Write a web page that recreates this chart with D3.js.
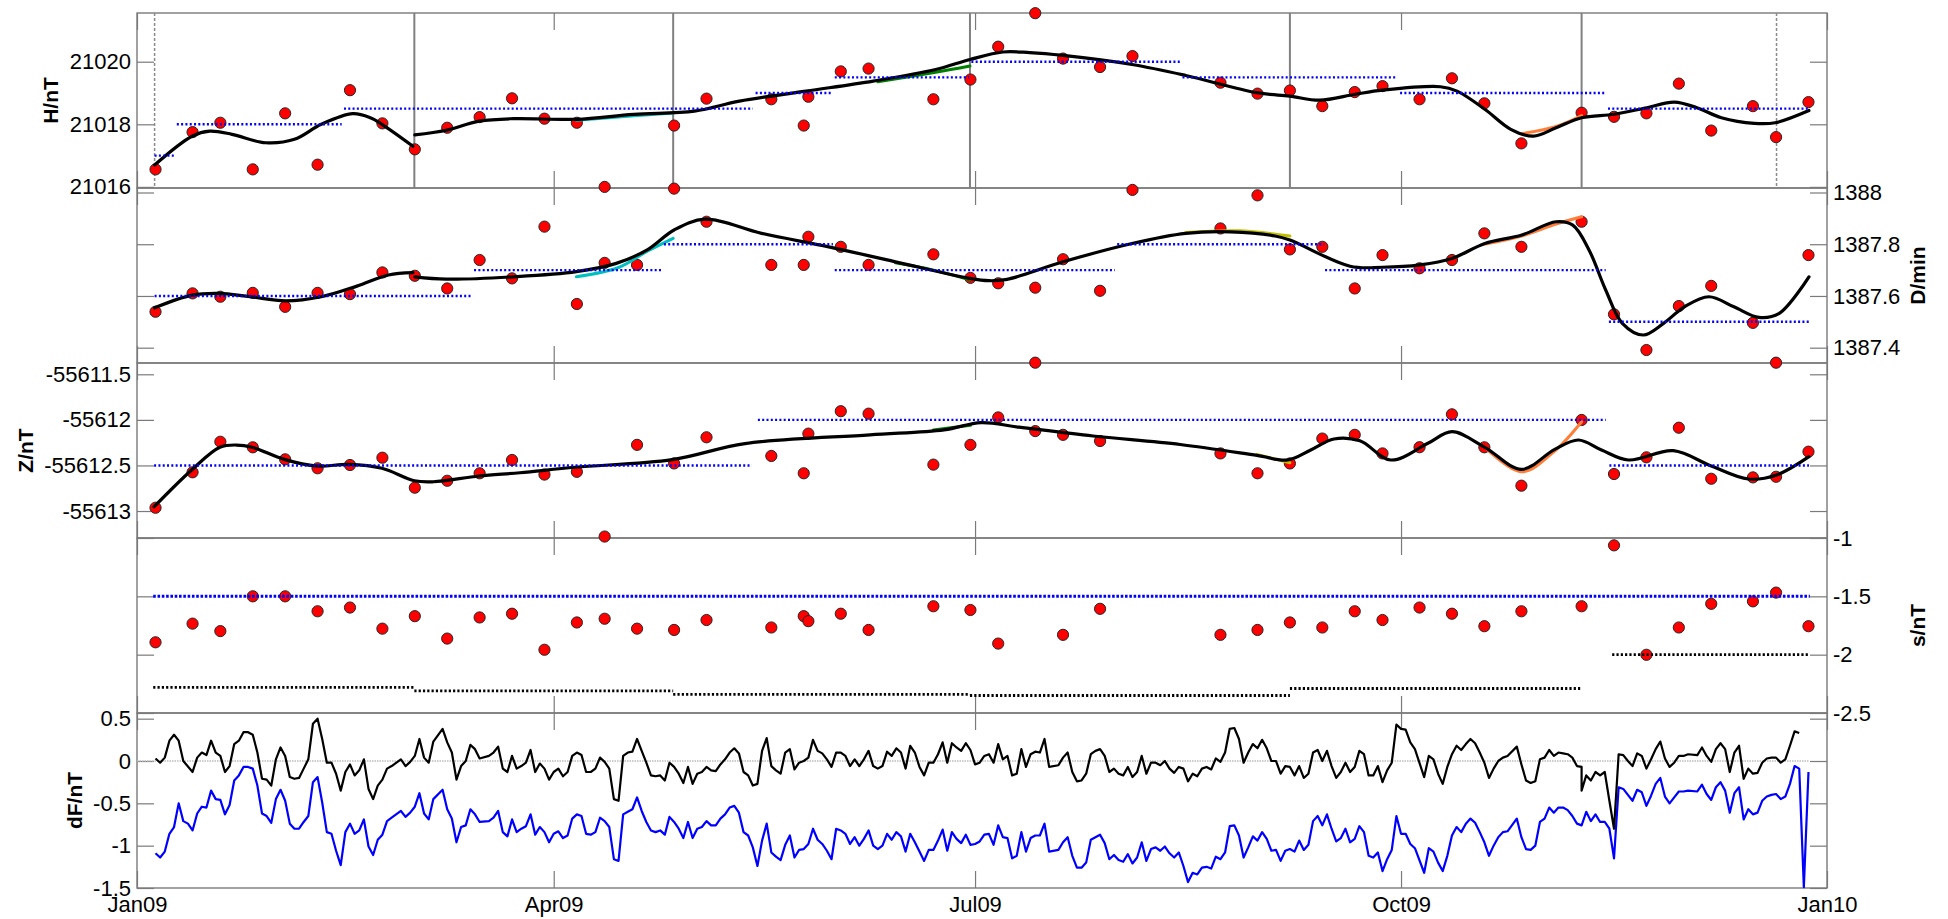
<!DOCTYPE html>
<html><head><meta charset="utf-8">
<script src="https://cdn.jsdelivr.net/npm/d3@7"></script>
<style>
body{margin:0;background:#fff;}
svg{display:block;font-family:"Liberation Sans",Arial,Helvetica,sans-serif;}
</style></head><body>
<svg id="c" width="1948" height="919"></svg>
<script>
// ---------- DATA (day of year 2009, 0 = Jan 1) ----------
const obsDay = [4,12,18,25,32,39,46,53,60,67,74,81,88,95,101,108,116,123,137,144,145,152,158,172,180,186,194,200,208,215,234,242,249,256,263,269,277,284,291,299,312,319,326,333,340,349,354,361];
const hObs = [21016.56,21017.75,21018.05,21016.56,21018.35,21016.71,21019.09,21018.03,21017.20,21017.89,21018.23,21018.83,21018.18,21018.05,21016.00,null,21017.96,21018.82,21018.80,21017.96,21018.88,21019.69,21019.78,21018.80,21019.43,21020.48,21021.55,21020.10,21019.83,21020.18,21019.33,21018.98,21019.08,21018.58,21019.03,21019.22,21018.80,21019.47,21018.67,21017.39,21018.37,21018.24,21018.35,21019.30,21017.80,21018.58,21017.59,21018.71];
const dObs = [1387.539,1387.610,1387.597,1387.612,1387.558,1387.612,1387.607,1387.691,1387.678,1387.629,1387.739,1387.668,1387.868,1387.569,1387.728,1387.720,1388.015,1387.887,1387.720,1387.720,1387.829,1387.790,1387.720,1387.761,1387.670,1387.649,1387.632,1387.742,1387.620,1388.010,1387.861,1387.989,1387.780,1387.790,1387.629,1387.758,1387.707,1387.739,1387.842,1387.790,1387.887,1387.529,1387.391,1387.561,1387.639,1387.496,1387.342,1387.758];
const dExtra = [[194,1387.342]];
const zObs = [-55612.964,-55612.575,-55612.240,-55612.301,-55612.433,-55612.531,-55612.495,-55612.415,-55612.744,-55612.668,-55612.586,-55612.440,-55612.60,-55612.57,-55613.28,-55612.274,-55612.478,-55612.191,-55612.396,-55612.586,-55612.151,-55611.905,-55611.932,-55612.491,-55612.274,-55611.973,-55612.123,-55612.164,-55612.232,null,-55612.368,-55612.586,-55612.478,-55612.205,-55612.164,-55612.368,-55612.30,-55611.939,-55612.301,-55612.722,-55612.001,-55612.594,-55612.411,-55612.086,-55612.646,-55612.631,-55612.624,-55612.349];
const sObs = [-1.894,-1.734,-1.798,-1.500,-1.500,-1.628,-1.596,-1.777,-1.670,-1.862,-1.681,-1.649,-1.958,-1.724,-1.692,-1.777,-1.788,-1.703,-1.767,-1.670,-1.713,-1.649,-1.788,-1.585,-1.617,-1.905,null,-1.830,-1.607,null,-1.830,-1.788,-1.724,-1.767,-1.628,-1.703,-1.596,-1.649,-1.756,-1.628,-1.585,-1.063,-2.001,-1.767,-1.564,-1.543,-1.468,-1.756];

// smooth fits
const hCurve1 = [[3.8,21016.70],[11.9,21017.62],[15.7,21017.78],[20.5,21017.68],[27.8,21017.41],[34.0,21017.52],[39.8,21018.00],[46.6,21018.34],[50.4,21018.21],[52.9,21018.0],[59.6,21017.30]];
const hCurve2 = [[60.0,21017.66],[66.8,21017.81],[73.9,21018.10],[81.3,21018.18],[94.9,21018.16],[107.3,21018.32],[120.4,21018.42],[130.1,21018.74],[144.5,21019.06],[159.0,21019.38],[172.5,21019.75],[179.9,21020.07],[187.0,21020.31],[192.8,21020.29],[200.0,21020.20],[214.9,21019.91],[226.5,21019.56],[241.9,21019.01],[249.0,21018.90],[255.4,21018.77],[263.1,21018.96],[269.0,21019.09],[281.5,21019.20],[285.1,21019.06],[291.1,21018.48],[296.7,21017.84],[301.6,21017.62],[306.5,21017.89],[312.0,21018.21],[319.0,21018.32],[326.1,21018.53],[332.0,21018.71],[336.9,21018.53],[342.2,21018.21],[349.3,21018.03],[353.8,21018.05],[361.1,21018.44]];
const dCurve1 = [[3.8,1387.554],[11.9,1387.603],[17.7,1387.610],[24.4,1387.597],[32.1,1387.581],[39.8,1387.597],[47.5,1387.638],[54.3,1387.681],[59.6,1387.690]];
const dCurve2 = [[60.0,1387.674],[66.8,1387.665],[81.3,1387.674],[94.9,1387.694],[103.5,1387.726],[110.2,1387.778],[116.0,1387.855],[122.7,1387.897],[134.9,1387.842],[149.4,1387.790],[163.8,1387.732],[179.9,1387.668],[184.0,1387.659],[187.9,1387.664],[200.0,1387.732],[214.9,1387.803],[226.5,1387.842],[236.1,1387.848],[245.8,1387.832],[249.0,1387.816],[262.0,1387.715],[269.0,1387.711],[277.1,1387.720],[284.0,1387.745],[291.1,1387.803],[299.1,1387.836],[306.5,1387.887],[310.1,1387.874],[313.6,1387.778],[317.2,1387.623],[320.8,1387.494],[325.3,1387.449],[329.7,1387.494],[334.2,1387.558],[339.5,1387.597],[344.9,1387.558],[350.3,1387.517],[354.7,1387.533],[361.1,1387.674]];
const zCurve = [[3.7,-55612.953],[11.8,-55612.550],[17.9,-55612.301],[21.5,-55612.276],[24.9,-55612.301],[31.8,-55612.433],[38.8,-55612.506],[45.8,-55612.488],[52.9,-55612.531],[59.9,-55612.668],[64.0,-55612.679],[73.9,-55612.616],[82.7,-55612.580],[94.6,-55612.52],[115.6,-55612.436],[131.3,-55612.26],[158.3,-55612.164],[174.3,-55612.11],[182.3,-55612.03],[190.5,-55612.08],[206.5,-55612.177],[225.3,-55612.27],[241.9,-55612.39],[248.5,-55612.44],[253.5,-55612.33],[258.5,-55612.21],[264.1,-55612.23],[270.8,-55612.44],[278.8,-55612.257],[284.0,-55612.130],[291.1,-55612.301],[299.0,-55612.543],[306.2,-55612.323],[311.3,-55612.221],[316.3,-55612.331],[322.1,-55612.440],[331.8,-55612.338],[340.0,-55612.506],[348.0,-55612.649],[354.1,-55612.605],[361.1,-55612.404]];

// alternative fits (coloured)
const hCyan = [[94.9,21018.13],[107.3,21018.27],[115.8,21018.36]];
const hGreen = [[160,21019.36],[172.5,21019.66],[179.9,21019.86]];
const hOrange = [[299.1,21017.70],[306.5,21017.93],[312.0,21018.28]];
const dCyan = [[94.9,1387.674],[104,1387.71],[110.2,1387.773],[115.8,1387.823]];
const dGreen = [[163.8,1387.728],[172,1387.700],[179.9,1387.662]];
const dYellow = [[226.5,1387.845],[238,1387.852],[249.0,1387.832]];
const dOrange = [[290.9,1387.80],[299.1,1387.832],[306.5,1387.878],[312.0,1387.906]];
const zGreen = [[172,-55612.11],[180,-55612.06]];
const zYellow = [[241.9,-55612.38],[249.0,-55612.47]];
const zOrange = [[291.1,-55612.30],[299.0,-55612.57],[306.0,-55612.35],[312.0,-55612.02]];

// baseline levels [startDay, endDay, value]
const hLevels = [[3.8,8.2,21017],[8.6,44.2,21018],[44.7,133.0,21018.5],[133.6,150.3,21019],[150.7,179.7,21019.5],[180.2,225.3,21020],[225.8,272.2,21019.5],[272.8,317.2,21019],[317.7,361.1,21018.5]];
const dLevels = [[3.8,72.1,1387.6],[72.8,113.2,1387.7],[113.8,150.3,1387.8],[150.7,211.2,1387.7],[211.7,256.4,1387.8],[256.6,317.2,1387.7],[317.9,361.1,1387.5]];
const zLevels = [[3.7,132.8,-55612.5],[134.1,317.2,-55612],[318,361.1,-55612.5]];
const sLevelsBlue = [[3.5,361.3,-1.5]];
const sLevelsBlack = [[3.5,59.9,-2.28],[59.9,115.8,-2.31],[115.8,179.9,-2.34],[179.9,249,-2.35],[249,312,-2.29],[318.6,361.1,-2.0]];

// baseline change markers
const vSolid = [59.9,115.8,179.9,249.0,312.0];
const vDashed = [3.8,354.1];

// daily dF series [day, value]
const dFblack = [[4,0.03],[5,-0.02],[6,0.04],[7,0.24],[8,0.31],[9,0.24],[10,0.00],[12,-0.13],[13,0.04],[14,0.10],[15,0.07],[16,0.24],[17,0.10],[18,0.06],[19,-0.13],[20,-0.06],[21,0.20],[22,0.24],[23,0.34],[24,0.34],[25,0.31],[26,0.10],[27,-0.21],[28,-0.22],[29,-0.29],[30,0.02],[31,0.16],[32,0.06],[33,-0.19],[34,-0.21],[35,-0.20],[36,-0.09],[37,0.02],[38,0.44],[39,0.50],[40,0.26],[41,-0.02],[42,-0.02],[43,-0.15],[44,-0.35],[45,-0.13],[46,-0.04],[47,-0.17],[48,-0.11],[49,0.02],[50,-0.33],[51,-0.45],[52,-0.29],[53,-0.22],[54,-0.09],[55,-0.06],[57,0.02],[58,-0.06],[59,-0.01],[60,0.06],[61,0.26],[62,0.04],[63,-0.02],[64,0.23],[66,0.38],[67,0.22],[68,0.10],[69,-0.22],[70,-0.06],[71,0.00],[72,0.19],[73,0.14],[74,0.03],[76,0.06],[77,0.10],[78,0.17],[79,-0.09],[80,-0.13],[81,0.06],[82,-0.09],[83,-0.06],
[84,-0.02],[85,0.13],[86,-0.13],[87,-0.03],[88,-0.09],[89,-0.22],[90,-0.13],[91,-0.09],[92,-0.18],[93,-0.13],[94,0.06],[95,0.10],[96,0.07],[97,-0.13],[98,-0.13],[99,-0.09],[100,0.04],[101,-0.01],[102,-0.09],[103,-0.45],[104,-0.47],[105,0.06],[106,0.10],[107,0.11],[108,0.26],[109,0.12],[110,-0.02],[111,-0.17],[112,-0.18],[113,-0.17],[114,-0.23],[115,-0.02],[116,-0.07],[117,-0.15],[118,-0.26],[119,-0.07],[120,-0.27],[121,-0.15],[122,-0.13],[123,-0.07],[124,-0.11],[125,-0.12],[126,-0.04],[127,0.02],[128,0.10],[129,0.15],[130,0.09],[131,-0.13],[132,-0.17],[133,-0.29],[134,-0.27],[135,0.12],[136,0.27],[137,-0.06],[138,-0.11],[139,-0.15],[140,0.10],[141,0.14],[142,-0.10],[143,-0.02],[144,0.00],[145,0.04],[146,0.25],[147,0.12],[148,0.09],[149,0.02],[150,-0.07],[151,0.10],[152,0.10],[153,0.06],[154,-0.06],[155,0.02],[156,-0.06],[157,0.02],[158,0.12],[159,-0.06],[160,-0.09],[161,-0.06],[162,0.11],[163,0.06],[164,0.15],[165,0.10],[166,-0.09],[167,0.18],[168,0.10],[169,-0.07],[170,-0.17],[171,-0.02],[172,-0.02],[173,0.08],[174,0.22],[175,-0.02],[176,0.21],[177,0.16],[178,0.12],[179,0.21],[180,0.13],[181,-0.04],[182,-0.02],[183,0.06],[184,0.08],[185,-0.02],[186,0.20],[187,0.02],[188,0.06],[189,-0.17],[190,-0.15],[191,0.14],[192,-0.07],[193,0.08],[194,0.11],[195,0.10],
[196,0.26],[197,-0.07],[199,-0.05],[200,0.04],[201,0.10],[202,-0.13],[203,-0.24],[204,-0.23],[205,-0.15],[206,0.08],[207,0.12],[208,0.14],[209,0.06],[210,-0.13],[211,-0.09],[212,-0.15],[213,-0.17],[214,-0.07],[215,-0.19],[216,-0.13],[217,0.06],[218,-0.15],[219,-0.02],[220,-0.02],[221,-0.05],[222,0.00],[223,-0.09],[224,-0.14],[225,-0.07],[226,-0.09],[227,-0.24],[228,-0.15],[229,-0.18],[230,-0.09],[231,-0.07],[232,-0.10],[233,0.03],[234,-0.01],[235,0.10],[236,0.38],[237,0.39],[238,0.26],[239,-0.02],[240,0.10],[241,0.20],[242,0.15],[243,0.25],[244,0.15],[245,0.00],[246,0.00],[247,-0.15],[248,-0.06],[249,-0.07],[250,-0.17],[251,-0.06],[252,-0.20],[253,-0.15],[254,0.10],[255,0.13],[256,0.00],[257,0.12],[258,-0.06],[259,-0.20],[260,-0.13],[261,-0.02],[262,-0.13],[263,-0.07],[264,0.12],[265,0.08],[266,-0.17],[267,-0.17],[268,-0.06],[269,-0.25],[270,-0.11],[271,-0.02],[272,0.43],[273,0.38],[274,0.37],[275,0.22],[276,0.14],[278,-0.19],[279,0.06],[280,0.02],[281,-0.15],[282,-0.27],[283,-0.07],[284,0.08],[285,0.18],[286,0.13],[287,0.20],[288,0.26],[289,0.21],[290,0.10],[291,-0.02],[292,-0.20],[293,-0.09],[294,0.00],[295,0.04],[296,0.06],[298,0.17],[299,-0.04],[300,-0.23],[301,-0.26],[302,-0.24],[303,0.02],[304,0.04],[305,0.13],[306,0.06],[307,0.10],
[308,0.09],[309,0.08],[310,0.04],[311,-0.06],[312,-0.07],[312,-0.35],[313,-0.17],[314,-0.23],[315,-0.13],[316,-0.17],[317,-0.13],[318,-0.47],[319,-0.80],[320,0.08],[321,0.07],[322,0.00],[323,-0.06],[324,0.09],[325,0.06],[326,-0.09],[327,0.02],[328,0.14],[329,0.23],[330,0.03],[331,-0.07],[332,-0.02],[333,0.06],[334,0.06],[335,0.08],[337,0.07],[338,0.16],[339,0.06],[340,-0.01],[341,0.14],[342,0.21],[343,0.14],[344,-0.13],[345,0.10],[346,0.18],[347,-0.21],[348,-0.09],[349,-0.15],[350,-0.14],[351,-0.02],[352,0.03],[353,0.04],[354,0.04],[355,-0.02],[356,0.02],[357,0.18],[358,0.35],[359,0.33]];
const dFblue = [[4,-1.09],[5,-1.14],[6,-1.07],[7,-0.86],[8,-0.78],[9,-0.50],[10,-0.71],[11,-0.74],[12,-0.82],[13,-0.62],[14,-0.54],[15,-0.55],[16,-0.35],[17,-0.45],[18,-0.46],[19,-0.63],[20,-0.52],[21,-0.23],[22,-0.17],[23,-0.07],[24,-0.07],[25,-0.09],[26,-0.29],[27,-0.62],[28,-0.65],[29,-0.73],[30,-0.45],[31,-0.34],[32,-0.47],[33,-0.74],[34,-0.80],[35,-0.80],[36,-0.72],[37,-0.65],[38,-0.25],[39,-0.19],[40,-0.49],[41,-0.84],[42,-0.86],[43,-1.06],[44,-1.23],[45,-0.84],[46,-0.74],[47,-0.86],[48,-0.82],[49,-0.69],[50,-1.01],[51,-1.11],[52,-0.93],[53,-0.87],[54,-0.71],[55,-0.67],[57,-0.59],[58,-0.66],[59,-0.61],[60,-0.54],[61,-0.38],[62,-0.62],[63,-0.69],[64,-0.45],[66,-0.34],[67,-0.57],[68,-0.68],[69,-0.96],[70,-0.78],[71,-0.76],[72,-0.57],[73,-0.63],[74,-0.72],[76,-0.71],[77,-0.67],[78,-0.59],[79,-0.84],[80,-0.89],[81,-0.69],[82,-0.84],[83,-0.80],
[84,-0.77],[85,-0.63],[86,-0.87],[87,-0.78],[88,-0.84],[89,-0.96],[90,-0.86],[91,-0.83],[92,-0.91],[93,-0.88],[94,-0.68],[95,-0.63],[96,-0.65],[97,-0.86],[98,-0.87],[99,-0.84],[100,-0.67],[101,-0.71],[102,-0.78],[103,-1.16],[104,-1.18],[105,-0.63],[106,-0.60],[107,-0.57],[108,-0.43],[109,-0.59],[110,-0.72],[111,-0.82],[112,-0.84],[113,-0.82],[114,-0.87],[115,-0.66],[116,-0.72],[117,-0.80],[118,-0.91],[119,-0.72],[120,-0.91],[121,-0.80],[122,-0.78],[123,-0.71],[124,-0.76],[125,-0.76],[126,-0.68],[127,-0.63],[128,-0.55],[129,-0.53],[130,-0.61],[131,-0.84],[132,-0.88],[133,-1.02],[134,-1.24],[135,-0.94],[136,-0.74],[137,-1.08],[138,-1.13],[139,-1.17],[140,-0.99],[141,-0.88],[142,-1.14],[143,-1.05],[144,-1.04],[145,-0.98],[146,-0.80],[147,-0.93],[148,-0.98],[149,-1.06],[150,-1.16],[151,-0.80],[152,-0.82],[153,-0.86],[154,-0.98],[155,-0.90],[156,-1.00],[157,-0.92],[158,-0.82],[159,-1.00],[160,-1.04],[161,-1.00],[162,-0.86],[163,-0.93],[164,-0.84],[165,-0.89],[166,-1.07],[167,-0.86],[168,-0.96],[169,-1.07],[170,-1.18],[171,-1.05],[172,-1.05],[173,-0.94],[174,-0.81],[175,-1.06],[176,-0.84],[177,-0.92],[178,-0.97],[179,-0.87],[180,-0.99],[181,-0.98],[182,-0.95],[183,-0.87],[184,-0.86],[185,-0.99],[186,-0.76],[187,-0.90],[188,-0.91],[189,-1.15],[190,-1.12],[191,-0.84],[192,-1.07],[193,-0.91],[194,-0.88],[195,-0.88],
[196,-0.74],[197,-1.07],[199,-1.05],[200,-0.96],[201,-0.90],[202,-1.12],[203,-1.26],[204,-1.26],[205,-1.20],[206,-0.93],[207,-0.90],[208,-0.87],[209,-0.97],[210,-1.16],[211,-1.11],[212,-1.17],[213,-1.19],[214,-1.10],[215,-1.21],[216,-1.14],[217,-0.96],[218,-1.18],[219,-1.04],[220,-1.02],[221,-1.06],[222,-1.01],[223,-1.09],[224,-1.14],[225,-1.08],[226,-1.24],[227,-1.43],[228,-1.32],[229,-1.34],[230,-1.26],[231,-1.25],[232,-1.27],[233,-1.13],[234,-1.16],[235,-1.08],[236,-0.77],[237,-0.76],[238,-0.88],[239,-1.14],[240,-1.02],[241,-0.89],[242,-0.94],[243,-0.84],[244,-0.92],[245,-1.06],[246,-1.05],[247,-1.18],[248,-1.06],[249,-1.04],[250,-1.07],[251,-0.94],[252,-1.05],[253,-0.99],[254,-0.71],[255,-0.65],[256,-0.76],[257,-0.63],[258,-0.80],[259,-0.95],[260,-0.91],[261,-0.80],[262,-0.96],[263,-0.92],[264,-0.77],[265,-0.84],[266,-1.12],[267,-1.14],[268,-1.08],[269,-1.30],[270,-1.16],[271,-1.05],[272,-0.65],[273,-0.86],[274,-0.86],[275,-0.98],[276,-1.03],[278,-1.32],[279,-1.03],[280,-1.07],[281,-1.20],[282,-1.30],[283,-1.12],[284,-0.88],[285,-0.78],[286,-0.84],[287,-0.74],[288,-0.68],[289,-0.73],[290,-0.84],[291,-0.96],[292,-1.12],[293,-1.00],[294,-0.90],[295,-0.84],[296,-0.83],[298,-0.68],[299,-0.90],[300,-1.04],[301,-1.05],[302,-1.00],[303,-0.72],[304,-0.68],[305,-0.55],[306,-0.61],[307,-0.55],
[308,-0.55],[309,-0.58],[310,-0.65],[311,-0.74],[312,-0.76],[313,-0.60],[314,-0.71],[315,-0.63],[316,-0.72],[317,-0.72],[318,-0.80],[319,-1.15],[320,-0.31],[321,-0.33],[322,-0.40],[323,-0.47],[324,-0.34],[325,-0.37],[326,-0.53],[327,-0.41],[328,-0.27],[329,-0.20],[330,-0.42],[331,-0.50],[332,-0.43],[333,-0.36],[334,-0.36],[335,-0.35],[337,-0.36],[338,-0.28],[339,-0.39],[340,-0.46],[341,-0.31],[342,-0.25],[343,-0.35],[344,-0.61],[345,-0.38],[346,-0.31],[347,-0.69],[348,-0.57],[349,-0.63],[350,-0.61],[351,-0.47],[352,-0.42],[353,-0.40],[354,-0.39],[355,-0.45],[356,-0.42],[357,-0.27],[358,-0.06],[359,-0.09],[360,-1.49],[361,-0.13]];

// ticks
const xTickDays = [0,90,181,273,365];
const xTickLabels = ['Jan09','Apr09','Jul09','Oct09','Jan10'];
const hTicks = [21016,21018,21020];
const dTicks = [1388,1387.8,1387.6,1387.4];
const zTicks = [-55611.5,-55612,-55612.5,-55613];
const sTicks = [-1,-1.5,-2,-2.5];
const fTicks = [0.5,0,-0.5,-1,-1.5];

// ---------- LAYOUT ----------
const X0 = 137, X1 = 1827, PH = 175;
const tops = [13,188,363,538,713];
const FONT = '"Liberation Sans",Arial,Helvetica,sans-serif';
const svg = d3.select('#c');
const t0 = Date.UTC(2009,0,1);
const toDate = d => new Date(t0 + d*864e5);
const x = d3.scaleUtc().domain([toDate(0), toDate(365)]).range([X0, X1]);
const xd = d => x(toDate(d));

const yH = d3.scaleLinear().domain([21015.965,21021.556]).range([tops[0]+PH, tops[0]]);
const yD = d3.scaleLinear().domain([1387.3408,1388.0174]).range([tops[1]+PH, tops[1]]);
const yZ = d3.scaleLinear().domain([-55613.296,-55611.376]).range([tops[2]+PH, tops[2]]);
const yS = d3.scaleLinear().domain([-2.5,-1]).range([tops[3]+PH, tops[3]]);
const yF = d3.scaleLinear().domain([-1.5,0.567]).range([tops[4]+PH, tops[4]]);

const AXC = '#7a7a7a';

// panel boxes
tops.forEach(t => {
  svg.append('rect').attr('x',X0).attr('y',t).attr('width',X1-X0).attr('height',PH)
    .attr('fill','none').attr('stroke',AXC).attr('stroke-width',1.4);
});

// axes helpers
function yAxis(scale, side, values, labelled){
  const ax = (side==='left' ? d3.axisLeft(scale) : d3.axisRight(scale))
    .tickValues(values).tickSizeInner(-17).tickSizeOuter(0).tickPadding(6)
    .tickFormat(d => String(d));
  const g = svg.append('g').attr('transform',`translate(${side==='left'?X0:X1},0)`).call(ax);
  g.select('.domain').remove();
  g.attr('font-size',22).attr('font-family',FONT);
  g.selectAll('line').attr('stroke',AXC).attr('stroke-width',1.2);
  if (labelled) g.selectAll('text').attr('fill','#000');
  else g.selectAll('text').remove();
}
function xAxes(i, labelled){
  const vals = xTickDays.map(toDate);
  const gb = svg.append('g').attr('transform',`translate(0,${tops[i]+PH})`)
    .call(d3.axisBottom(x).tickValues(vals).tickSizeInner(-17).tickSizeOuter(0).tickPadding(8)
      .tickFormat((d,k) => xTickLabels[k]));
  gb.select('.domain').remove();
  gb.attr('font-size',22).attr('font-family',FONT);
  gb.selectAll('line').attr('stroke',AXC).attr('stroke-width',1.2);
  if (labelled) gb.selectAll('text').attr('fill','#000');
  else gb.selectAll('text').remove();
  const gt = svg.append('g').attr('transform',`translate(0,${tops[i]})`)
    .call(d3.axisTop(x).tickValues(vals).tickSizeInner(-17).tickSizeOuter(0));
  gt.select('.domain').remove();
  gt.selectAll('text').remove();
  gt.selectAll('line').attr('stroke',AXC).attr('stroke-width',1.2);
}
for (let i=0;i<5;i++) xAxes(i, i===4);
yAxis(yH,'left',hTicks,true);  yAxis(yH,'right',hTicks,false);
yAxis(yD,'right',dTicks,true); yAxis(yD,'left',dTicks,false);
yAxis(yZ,'left',zTicks,true);  yAxis(yZ,'right',zTicks,false);
yAxis(yS,'right',sTicks,true); yAxis(yS,'left',sTicks,false);
yAxis(yF,'left',fTicks,true);  yAxis(yF,'right',fTicks,false);

// axis titles
const titles = [
  {t:'H/nT', x:50, y:tops[0]+PH/2},
  {t:'D/min', x:1917, y:tops[1]+PH/2},
  {t:'Z/nT', x:25, y:tops[2]+PH/2},
  {t:'s/nT', x:1917, y:tops[3]+PH/2},
  {t:'dF/nT', x:74, y:tops[4]+PH/2}
];
titles.forEach(o => svg.append('text').text(o.t)
  .attr('transform',`translate(${o.x},${o.y}) rotate(-90)`)
  .attr('text-anchor','middle').attr('dominant-baseline','central')
  .attr('font-family',FONT).attr('font-size',21).attr('font-weight','bold').attr('fill','#000'));

// vertical baseline-change lines (panel 1)
svg.selectAll('line.vs').data(vSolid).join('line').attr('class','vs')
  .attr('x1',d=>xd(d)).attr('x2',d=>xd(d)).attr('y1',tops[0]).attr('y2',tops[0]+PH)
  .attr('stroke','#808080').attr('stroke-width',2);
svg.selectAll('line.vd').data(vDashed).join('line').attr('class','vd')
  .attr('x1',d=>xd(d)).attr('x2',d=>xd(d)).attr('y1',tops[0]).attr('y2',tops[0]+PH)
  .attr('stroke','#8a8a8a').attr('stroke-width',1.5).attr('stroke-dasharray','3 2');

// zero line in dF panel
svg.append('line').attr('x1',xd(0)).attr('x2',xd(361)).attr('y1',yF(0)).attr('y2',yF(0))
  .attr('stroke','#bdbdbd').attr('stroke-width',1.3).attr('stroke-dasharray','1.5 1');

// points
function points(ys, vals, extra){
  const pts = obsDay.map((d,i)=>[d, vals[i]]).filter(p => p[1]!=null).concat(extra||[]);
  svg.append('g').selectAll('circle').data(pts).join('circle')
    .attr('cx',d=>xd(d[0])).attr('cy',d=>ys(d[1])).attr('r',5.6)
    .attr('fill','#ff0000').attr('stroke','#262626').attr('stroke-width',1);
}
points(yH,hObs); points(yD,dObs,dExtra); points(yZ,zObs); points(yS,sObs);

// curves
function curve(ys, data, color, w){
  svg.append('path').datum(data)
    .attr('d', d3.line().x(d=>xd(d[0])).y(d=>ys(d[1])).curve(d3.curveCatmullRom.alpha(0.5)))
    .attr('fill','none').attr('stroke',color).attr('stroke-width',w)
    .attr('stroke-linejoin','round').attr('stroke-linecap','round');
}
const CY='#00bfbf', GR='#008000', YE='#bfbf00', OR='#ff7f3a';
curve(yH,hCyan,CY,3); curve(yH,hGreen,GR,3); curve(yH,hOrange,OR,3);
curve(yD,dCyan,CY,3); curve(yD,dGreen,GR,3); curve(yD,dYellow,YE,3); curve(yD,dOrange,OR,3);
curve(yZ,zGreen,GR,3); curve(yZ,zYellow,YE,3); curve(yZ,zOrange,OR,3);
curve(yH,hCurve1,'#000',3.2); curve(yH,hCurve2,'#000',3.2);
curve(yD,dCurve1,'#000',3.2); curve(yD,dCurve2,'#000',3.2);
curve(yZ,zCurve,'#000',3.2);

// level lines
function levels(ys, data, color, w, dash){
  svg.append('g').selectAll('line').data(data).join('line')
    .attr('x1',d=>xd(d[0])).attr('x2',d=>xd(d[1])).attr('y1',d=>ys(d[2])).attr('y2',d=>ys(d[2]))
    .attr('stroke',color).attr('stroke-width',w).attr('stroke-dasharray',dash);
}
levels(yH,hLevels,'#0000ff',2.4,'2 2.3');
levels(yD,dLevels,'#0000ff',2.4,'2 2.3');
levels(yZ,zLevels,'#0000ff',2.4,'2 2.3');
levels(yS,sLevelsBlue,'#0000ff',3,'2.6 1.7');
levels(yS,sLevelsBlack,'#000',2.8,'2.2 2.1');

// dF lines
const lf = d3.line().x(d=>xd(d[0])).y(d=>yF(d[1]));
svg.append('path').datum(dFblue).attr('d',lf).attr('fill','none').attr('stroke','#0000ff').attr('stroke-width',2.2).attr('stroke-linejoin','round');
svg.append('path').datum(dFblack).attr('d',lf).attr('fill','none').attr('stroke','#000').attr('stroke-width',2.2).attr('stroke-linejoin','round');
</script></body></html>
